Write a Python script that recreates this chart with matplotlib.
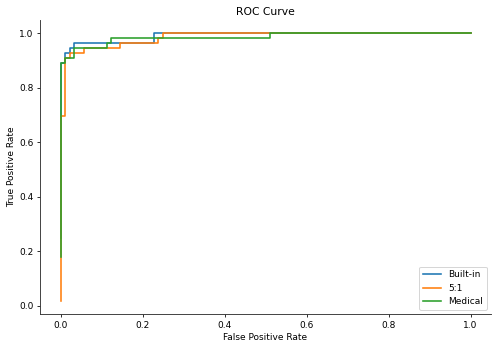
import matplotlib
matplotlib.use("Agg")
import matplotlib.pyplot as plt

# ROC curve points (false positive rate, true positive rate)
builtin_fpr = [0.0, 0.0, 0.012, 0.012, 0.022, 0.022, 0.0325, 0.0325, 0.228, 0.228, 1.0]
builtin_tpr = [0.25, 0.893, 0.893, 0.929, 0.929, 0.946, 0.946, 0.964, 0.964, 1.0, 1.0]

ratio_fpr = [0.0, 0.0, 0.010, 0.010, 0.022, 0.022, 0.058, 0.058, 0.146, 0.146, 0.239, 0.239, 0.249, 0.249, 1.0]
ratio_tpr = [0.018, 0.696, 0.696, 0.911, 0.911, 0.929, 0.929, 0.946, 0.946, 0.964, 0.964, 0.982, 0.982, 1.0, 1.0]

medical_fpr = [0.0, 0.0, 0.012, 0.012, 0.0325, 0.0325, 0.114, 0.114, 0.124, 0.124, 0.512, 0.512, 1.0]
medical_tpr = [0.179, 0.893, 0.893, 0.911, 0.911, 0.946, 0.946, 0.964, 0.964, 0.982, 0.982, 1.0, 1.0]

labels = ["Built-in", "5:1", "Medical"]

s = 0.9
plt.rcParams.update({
    "font.size": 10 * s,
    "lines.linewidth": 1.6,
    "axes.linewidth": 0.9,
    "axes.edgecolor": "#333333",
    "xtick.major.size": 3.5 * s,
    "ytick.major.size": 3.5 * s,
    "xtick.major.width": 0.8,
    "ytick.major.width": 0.8,
    "xtick.major.pad": 3.5 * s,
    "ytick.major.pad": 3.5 * s,
    "axes.titlepad": 6.0 * s,
    "axes.labelpad": 4.0 * s,
})

fig = plt.figure(figsize=(500 / 72, 348 / 72), dpi=72)
ax = fig.add_axes([0.08, 0.0968, 0.902, 0.8457])
ax.plot(builtin_fpr, builtin_tpr, label=labels[0])
ax.plot(ratio_fpr, ratio_tpr, label=labels[1])
ax.plot(medical_fpr, medical_tpr, label=labels[2])
ax.set_title("ROC Curve")
ax.set_xlabel("False Positive Rate")
ax.set_ylabel("True Positive Rate")
ax.spines["top"].set_visible(False)
ax.spines["right"].set_visible(False)
ax.legend(loc="lower right")
fig.savefig("out.png", dpi=72)
